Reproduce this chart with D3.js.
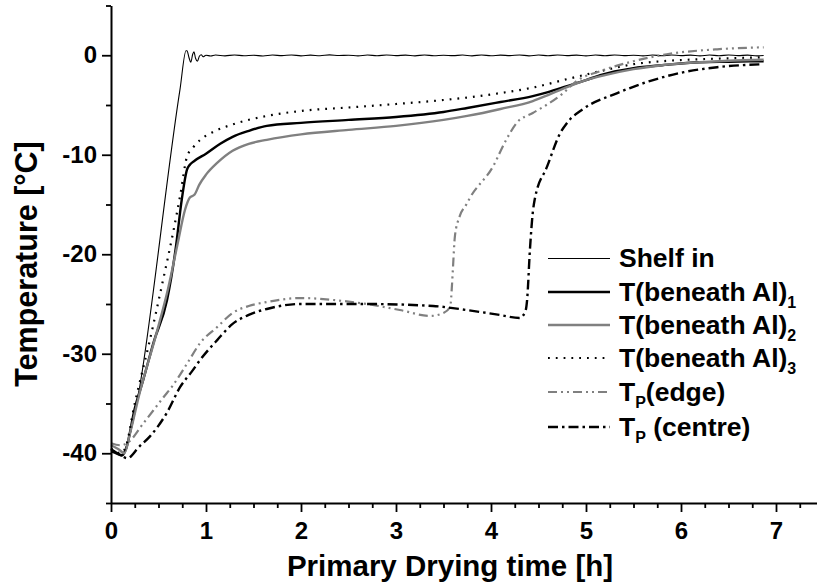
<!DOCTYPE html>
<html>
<head>
<meta charset="utf-8">
<script src="https://cdn.jsdelivr.net/npm/d3@7/dist/d3.min.js"></script>
<style>
  html, body { margin: 0; padding: 0; background: #fff; }
  svg { display: block; }
  text { font-family: "Liberation Sans", Arial, Helvetica, sans-serif; font-weight: bold; fill: #000; }
</style>
</head>
<body>
<svg id="chart" width="817" height="584"></svg>
<script>
// Primary drying: shelf inlet temperature, temperatures beneath the aluminium foil
// and product temperatures (edge / centre) versus time in hours.

const xMajorTicks = [0, 1, 2, 3, 4, 5, 6, 7];
const yMajorTicks = [-40, -30, -20, -10, 0];

// Shelf inlet temperature [time h, T °C]
const shelfIn = [
  [0, -39.6], [0.04, -39.8], [0.08, -40.1], [0.11, -40.3], [0.13, -40.0],
  [0.726, -3.45], [0.79, 0.45], [0.80, 0.45], [0.82, -0.2], [0.84, -0.7],
  [0.86, 0.1], [0.873, 0.35], [0.89, -0.3], [0.91, -0.6], [0.93, -0.1],
  [0.95, 0.05], [0.97, -0.15], [1.0, 0.0], [1.05, -0.08], [1.1, 0.02],
  [1.2, -0.06], [1.3, 0.03], [1.4, -0.05], [1.5, 0.0], [1.6, -0.07],
  [1.7, 0.02], [1.8, -0.04], [1.9, 0.03], [2.0, -0.06], [2.1, 0.01],
  [2.2, -0.05], [2.3, 0.04], [2.4, -0.03], [2.5, 0.0], [2.6, -0.06],
  [2.7, 0.02], [2.8, -0.05], [2.9, 0.03], [3.0, -0.04], [3.1, 0.01],
  [3.2, -0.06], [3.3, 0.03], [3.4, -0.05], [3.5, 0.0], [3.6, -0.04],
  [3.7, 0.02], [3.8, -0.06], [3.9, 0.03], [4.0, -0.05], [4.1, 0.01],
  [4.2, -0.04], [4.3, 0.03], [4.4, -0.06], [4.5, 0.02], [4.6, -0.05],
  [4.7, 0.03], [4.8, -0.04], [4.9, 0.01], [5.0, -0.06], [5.1, 0.02],
  [5.2, -0.05], [5.3, 0.03], [5.4, -0.04], [5.5, 0.0], [5.6, -0.06],
  [5.7, 0.02], [5.8, -0.05], [5.9, 0.03], [6.0, -0.04], [6.1, 0.01],
  [6.2, -0.06], [6.3, 0.02], [6.4, -0.05], [6.5, 0.03], [6.6, -0.04],
  [6.7, 0.01], [6.8, -0.06], [6.87, -0.03]
];

// T(beneath Al)1
const beneathAl1 = [
  [0, -39.6], [0.05, -39.9], [0.12, -40.2], [0.16, -39.5], [0.25, -35.5],
  [0.34, -32.6], [0.45, -28.8], [0.59, -24.6], [0.68, -19.5], [0.745, -14.5],
  [0.8, -11.5], [0.83, -11.0], [0.88, -10.6], [1.0, -9.9], [1.15, -8.9],
  [1.28, -8.2], [1.45, -7.6], [1.64, -7.1], [2.0, -6.8], [2.5, -6.5],
  [3.0, -6.2], [3.5, -5.7], [3.75, -5.3], [4.1, -4.7], [4.44, -4.1],
  [4.6, -3.7], [4.8, -3.1], [5.0, -2.5], [5.15, -2.0], [5.5, -1.3],
  [5.8, -1.0], [6.2, -0.7], [6.5, -0.65], [6.87, -0.6]
];

// T(beneath Al)2
const beneathAl2 = [
  [0, -39.2], [0.08, -39.6], [0.14, -40.0], [0.2, -38.0], [0.3, -34.0],
  [0.48, -27.9], [0.6, -23.5], [0.7, -19.0], [0.78, -15.5], [0.83, -14.3],
  [0.88, -14.0], [0.93, -13.0], [1.0, -12.0], [1.12, -10.8], [1.28, -9.6],
  [1.45, -8.9], [1.64, -8.5], [2.0, -7.95], [2.5, -7.5], [3.0, -7.1],
  [3.5, -6.5], [3.75, -6.1], [4.1, -5.4], [4.44, -4.6], [4.6, -4.0],
  [4.8, -3.2], [5.0, -2.5], [5.2, -2.0], [5.5, -1.4], [5.8, -1.0],
  [6.2, -0.7], [6.5, -0.55], [6.87, -0.45]
];

// T(beneath Al)3
const beneathAl3 = [
  [0, -39.5], [0.1, -40.0], [0.15, -39.5], [0.25, -35.0], [0.4, -29.0],
  [0.55, -22.5], [0.65, -18.0], [0.73, -14.0], [0.8, -10.2], [0.87, -9.2],
  [0.94, -8.5], [1.1, -7.6], [1.28, -6.95], [1.64, -6.1], [2.0, -5.6],
  [2.5, -5.25], [3.0, -4.9], [3.5, -4.5], [3.75, -4.25], [4.1, -3.8],
  [4.44, -3.25], [4.8, -2.4], [5.15, -1.6], [5.5, -0.9], [5.8, -0.6],
  [6.2, -0.4], [6.5, -0.3], [6.87, -0.2]
];

// Product temperature, edge vial
const tpEdge = [
  [0, -39.0], [0.1, -39.2], [0.18, -38.9], [0.34, -37.0], [0.55, -34.4],
  [0.65, -33.2], [0.8, -31.0], [0.94, -28.9], [1.12, -27.3], [1.28, -25.9],
  [1.45, -25.2], [1.64, -24.8], [2.0, -24.4], [2.34, -24.6], [2.69, -25.0],
  [3.04, -25.6], [3.36, -26.2], [3.5, -25.9], [3.57, -25.3], [3.59, -23.0],
  [3.6, -21.3], [3.62, -18.2], [3.67, -16.2], [3.74, -15.0], [3.78, -14.3],
  [4.02, -11.2], [4.16, -8.5], [4.27, -6.8], [4.44, -5.8], [4.6, -4.9],
  [4.76, -3.8], [4.9, -2.6], [5.15, -1.6], [5.5, -0.6], [5.85, 0.1],
  [6.38, 0.6], [6.87, 0.8]
];

// Product temperature, centre vial
const tpCentre = [
  [0, -39.8], [0.1, -40.2], [0.17, -40.5], [0.3, -39.3], [0.41, -38.3],
  [0.59, -35.9], [0.73, -33.3], [0.85, -31.8], [0.94, -30.6], [1.12, -28.6],
  [1.28, -27.0], [1.45, -26.1], [1.64, -25.5], [2.0, -25.0], [2.69, -25.0],
  [3.39, -25.2], [3.74, -25.6], [4.09, -26.1], [4.3, -26.4], [4.36, -25.8],
  [4.38, -24.6], [4.41, -19.5], [4.44, -15.8], [4.46, -14.5], [4.59, -11.2],
  [4.73, -7.8], [4.8, -6.8], [4.97, -5.4], [5.33, -3.8], [5.67, -2.6],
  [6.03, -1.7], [6.38, -1.2], [6.86, -0.9]
];

const seriesNames = ["Shelf in", "T(beneath Al)", "T(beneath Al)", "T(beneath Al)", "T", "T"];
const seriesSubs = ["", "1", "2", "3", "P", "P"];
const seriesTails = ["", "", "", "", "(edge)", " (centre)"];

const series = [
  { data: shelfIn,    color: "#000",    width: 1.1, dash: null },
  { data: beneathAl1, color: "#000",    width: 2.4, dash: null },
  { data: beneathAl2, color: "#808080", width: 2.4, dash: null },
  { data: beneathAl3, color: "#000",    width: 2.2, dash: "1.8,6" },
  { data: tpEdge,     color: "#808080", width: 2.2, dash: "9,4,2,4,2,4" },
  { data: tpCentre,   color: "#000",    width: 2.4, dash: "10,4,2.5,4" }
];

const svg = d3.select("#chart");

const x = d3.scaleLinear().domain([0, 7.5]).range([111, 823.5]);
const y = d3.scaleLinear().domain([-45, 5]).range([503, 5.5]);

const plot = svg.append("g");

const line = d3.line()
  .x(d => x(d[0]))
  .y(d => y(d[1]))
  .curve(d3.curveMonotoneX);

series.forEach(s => {
  plot.append("path")
    .datum(s.data)
    .attr("fill", "none")
    .attr("stroke", s.color)
    .attr("stroke-width", s.width)
    .attr("stroke-linejoin", "round")
    .attr("stroke-dasharray", s.dash)
    .attr("d", line);
});

// Axes: major ticks with labels, minor ticks without
const xMinor = d3.range(0, 7.5 + 1e-9, 0.25).filter(v => Math.abs(v - Math.round(v)) > 1e-6);
const yMinor = d3.range(-45, 5 + 1e-9, 5).filter(v => v % 10 !== 0);
const plainNumber = d => String(d);

const xAxis = svg.append("g").attr("transform", `translate(0,${y(-45)})`);
xAxis.call(d3.axisBottom(x).tickValues(xMajorTicks).tickSize(9).tickSizeOuter(0).tickPadding(10)
  .tickFormat(plainNumber));
xAxis.append("g").call(d3.axisBottom(x).tickValues(xMinor).tickSize(5).tickSizeOuter(0).tickFormat(""))
  .select(".domain").remove();

const yAxis = svg.append("g").attr("transform", `translate(${x(0)},0)`);
yAxis.call(d3.axisLeft(y).tickValues(yMajorTicks).tickSize(9).tickSizeOuter(0).tickPadding(5)
  .tickFormat(plainNumber));
yAxis.append("g").call(d3.axisLeft(y).tickValues(yMinor).tickSize(5).tickSizeOuter(0).tickFormat(""))
  .select(".domain").remove();

svg.selectAll(".domain").attr("stroke", "#000").attr("stroke-width", 2);
svg.selectAll(".tick line").attr("stroke", "#000").attr("stroke-width", 1.8);
svg.selectAll(".tick text")
  .style("font-size", "24px")
  .style("font-family", "'Liberation Sans', Arial, sans-serif")
  .style("font-weight", "bold")
  .attr("fill", "#000");

// Axis titles
svg.append("text")
  .attr("x", 450).attr("y", 576)
  .attr("text-anchor", "middle")
  .style("font-size", "29.5px")
  .text("Primary Drying time [h]");

svg.append("text")
  .attr("transform", "translate(37,264) rotate(-90)")
  .attr("text-anchor", "middle")
  .style("font-size", "30.5px")
  .text("Temperature [°C]");

// Legend
const legendRows = [258, 292, 325, 358, 392, 427];
const legend = svg.append("g");
series.forEach((s, i) => {
  const ry = legendRows[i] + (s.width < 1.5 ? 0.5 : 0);
  legend.append("line")
    .attr("x1", 548).attr("x2", 610)
    .attr("y1", ry).attr("y2", ry)
    .attr("stroke", s.color)
    .attr("stroke-width", s.width)
    .attr("stroke-dasharray", s.dash);
  const t = legend.append("text")
    .attr("x", 619).attr("y", legendRows[i] + 9)
    .style("font-size", "26.5px");
  t.append("tspan").text(seriesNames[i]);
  if (seriesSubs[i]) {
    t.append("tspan").attr("dy", 7).style("font-size", "16px").text(seriesSubs[i]);
    if (seriesTails[i]) {
      t.append("tspan").attr("dy", -7).text(seriesTails[i]);
    }
  }
});
</script>
</body>
</html>
